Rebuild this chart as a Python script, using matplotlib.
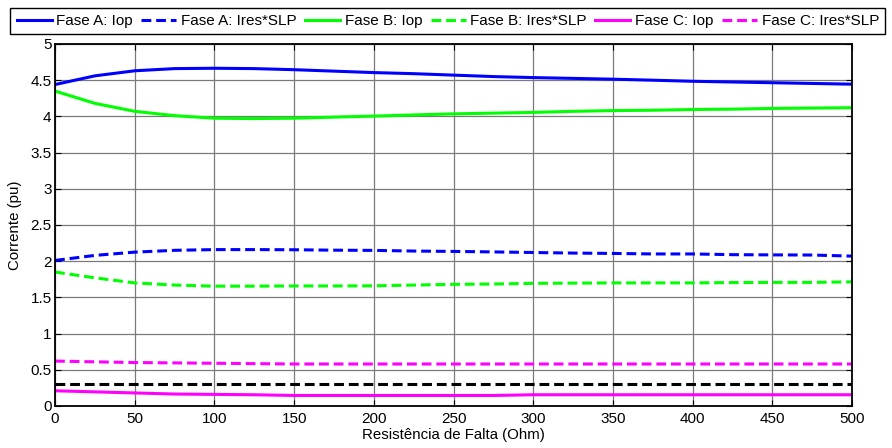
import matplotlib
matplotlib.use("Agg")
import matplotlib.pyplot as plt
import numpy as np

plt.rcParams['font.family'] = ['Liberation Sans', 'DejaVu Sans']

# Fault resistance (Ohm)
resistance = [0, 25, 50, 75, 100, 125, 150, 175, 200, 225, 250,
              275, 300, 325, 350, 375, 400, 425, 450, 475, 500]

# Operating currents (pu)
fase_a_iop = [4.44, 4.56, 4.63, 4.66, 4.665, 4.66, 4.645, 4.625, 4.605, 4.59, 4.57,
              4.55, 4.536, 4.525, 4.514, 4.50, 4.485, 4.475, 4.465, 4.455, 4.445]
fase_b_iop = [4.35, 4.18, 4.07, 4.01, 3.975, 3.97, 3.975, 3.99, 4.004, 4.02, 4.035,
              4.045, 4.055, 4.07, 4.08, 4.085, 4.095, 4.10, 4.11, 4.115, 4.12]
fase_c_iop = [0.21, 0.195, 0.18, 0.165, 0.16, 0.155, 0.145, 0.145, 0.145, 0.145, 0.145,
              0.145, 0.155, 0.155, 0.155, 0.155, 0.155, 0.155, 0.155, 0.155, 0.155]

# Restraint currents times slope (pu)
fase_a_ires = [2.01, 2.08, 2.125, 2.15, 2.16, 2.16, 2.158, 2.152, 2.149, 2.14, 2.135,
               2.128, 2.12, 2.112, 2.107, 2.10, 2.10, 2.09, 2.087, 2.085, 2.07]
fase_b_ires = [1.85, 1.77, 1.70, 1.67, 1.655, 1.655, 1.658, 1.658, 1.66, 1.67, 1.68,
               1.685, 1.694, 1.697, 1.70, 1.70, 1.70, 1.705, 1.707, 1.707, 1.715]
fase_c_ires = [0.62, 0.61, 0.60, 0.595, 0.59, 0.585, 0.58, 0.58, 0.58, 0.58, 0.58,
               0.58, 0.58, 0.58, 0.58, 0.58, 0.58, 0.58, 0.58, 0.58, 0.58]

# Minimum pickup current (pu)
pickup = 0.3

x_ticks = [0, 50, 100, 150, 200, 250, 300, 350, 400, 450, 500]
y_ticks = [0, 0.5, 1, 1.5, 2, 2.5, 3, 3.5, 4, 4.5, 5]
y_tick_labels = ['0', '0.5', '1', '1.5', '2', '2.5', '3', '3.5', '4', '4.5', '5']

fig = plt.figure(figsize=(8.92, 4.48), dpi=100)
ax = fig.add_axes([0.0617, 0.0938, 0.8935, 0.808])

blue, green, magenta = (0, 0, 1), (0, 1, 0), (1, 0, 1)
lw = 2.2
dash = (0, (3.2, 1.6))

ax.plot(resistance, fase_a_iop, color=blue, lw=lw, label='Fase A: Iop')
ax.plot(resistance, fase_a_ires, color=blue, lw=lw, ls=dash, label='Fase A: Ires*SLP')
ax.plot(resistance, fase_b_iop, color=green, lw=lw, label='Fase B: Iop')
ax.plot(resistance, fase_b_ires, color=green, lw=lw, ls=dash, label='Fase B: Ires*SLP')
ax.plot(resistance, fase_c_iop, color=magenta, lw=lw, label='Fase C: Iop')
ax.plot(resistance, fase_c_ires, color=magenta, lw=lw, ls=dash, label='Fase C: Ires*SLP')
ax.plot([resistance[0], resistance[-1]], [pickup, pickup], color='black', lw=lw, ls=dash)

ax.set_xlim(0, 500)
ax.set_ylim(0, 5)
ax.set_xticks(x_ticks)
ax.set_yticks(y_ticks)
ax.set_yticklabels(y_tick_labels)
ax.tick_params(direction='in', top=True, right=True, labelsize=11, length=4)
ax.tick_params(axis='x', pad=4.5)
ax.tick_params(axis='y', pad=2.5)
ax.grid(True, color='#7a7a7a', lw=0.9)
ax.set_axisbelow(True)
for s in ax.spines.values():
    s.set_linewidth(1.3)

ax.set_xlabel('Resistência de Falta (Ohm)', fontsize=10.8, labelpad=1)
ax.set_ylabel('Corrente (pu)', fontsize=10.8, labelpad=6)

leg = fig.legend(loc='upper center', bbox_to_anchor=(0.502, 0.982), ncol=6,
                 fontsize=11, frameon=True, fancybox=False, edgecolor='black',
                 framealpha=1, handlelength=2.3, handletextpad=0.3,
                 columnspacing=0.55, borderpad=0.4, borderaxespad=0)
leg.get_frame().set_linewidth(1.0)

fig.savefig('out.png', dpi=100)
